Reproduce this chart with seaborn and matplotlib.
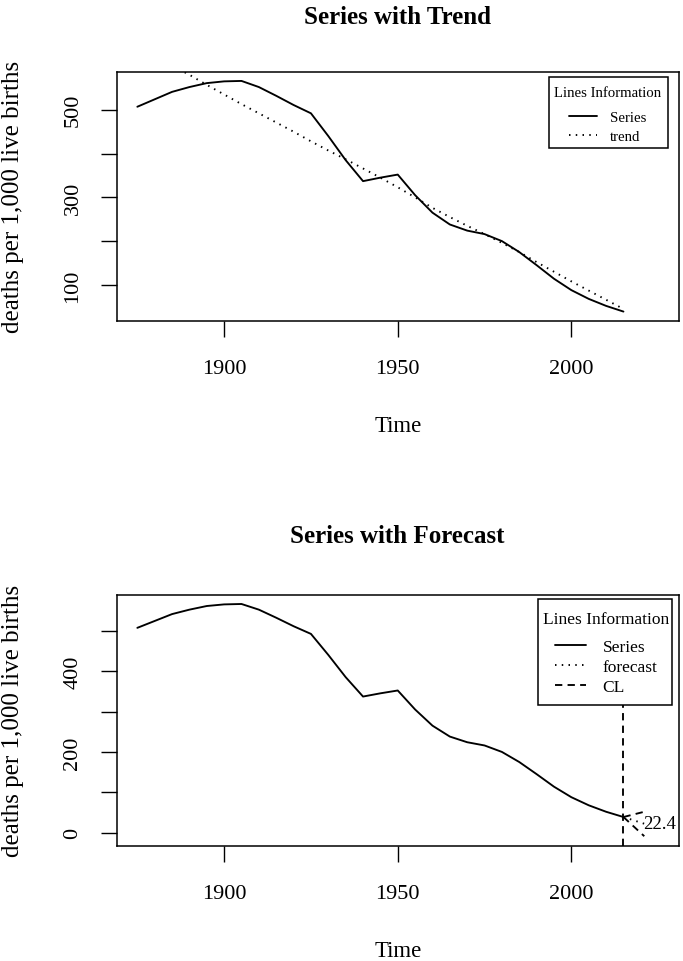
import numpy as np
import pandas as pd
import matplotlib
matplotlib.use("Agg")
import matplotlib.pyplot as plt
from matplotlib.patches import Rectangle
import seaborn as sns

# ---------------- data ----------------
years = [1875, 1880, 1885, 1890, 1895, 1900, 1905, 1910, 1915, 1920,
         1925, 1930, 1935, 1940, 1945, 1950, 1955, 1960, 1965, 1970,
         1975, 1980, 1985, 1990, 1995, 2000, 2005, 2010, 2015]
series = [507, 524, 541, 552, 561, 565, 566, 552, 532, 511,
          492, 440, 385, 337, 345, 352, 305, 265, 238, 224,
          216, 200, 175, 145, 114, 88, 68, 52, 39]
trend = [645, 623, 601, 580, 557, 535, 513, 492, 471, 450,
         428, 407, 387, 366, 345, 323, 300, 276, 255, 235,
         216, 196, 175, 152, 130, 108, 87, 66, 45]

fc_years = [2015, 2021]
forecast = [39, 22.4]
upper_cl = [39, 52]
lower_cl = [39, -8.5]
fc_label = "22.4"
cut_year = 2015

x_range = [1875, 2025]

top_yticks = [100, 200, 300, 400, 500]
top_ylabels = ["100", "", "300", "", "500"]
bot_yticks = [0, 100, 200, 300, 400, 500]
bot_ylabels = ["0", "", "200", "", "400", ""]
x_ticks = [1900, 1950, 2000]

title_top = "Series with Trend"
title_bot = "Series with Forecast"
xlab = "Time"
ylab = "deaths per 1,000 live births"
legend_title = "Lines Information"

# ---------------- style ----------------
sns.set_style("ticks")
plt.rcParams["font.family"] = ["Liberation Serif", "DejaVu Serif"]
for k in ["text.color", "axes.labelcolor", "xtick.color", "ytick.color",
          "axes.edgecolor"]:
    plt.rcParams[k] = "black"

W, H = 683, 962
fig = plt.figure(figsize=(W / 100, H / 100), dpi=100)

LW = 1.35
dotted = (0, (0.8, 2.8))
dashed = (0, (3.9, 2.8))
AX_L, AX_R = 116.5, 679.0


def pad(lo, hi):
    r = hi - lo
    return lo - 0.04 * r, hi + 0.04 * r


def px2ax(ax_top, ax_bot, x, y):
    return ((x - AX_L) / (AX_R - AX_L), (ax_bot - y) / (ax_bot - ax_top))


def style_axes(ax, yticks, ylabels, ytop_px, ybot_px):
    ax.set_xlim(*pad(*x_range))
    ax.set_xticks(x_ticks)
    ax.set_xticklabels([str(t) for t in x_ticks])
    ax.set_yticks(yticks)
    ax.set_yticklabels(ylabels, rotation=90, va="center")
    ax.tick_params(axis="both", direction="out", length=11.5, width=1.0,
                   labelsize=16, colors="black")
    ax.tick_params(axis="x", pad=16)
    ax.tick_params(axis="y", pad=13)
    for s in ax.spines.values():
        s.set_visible(True)
        s.set_color("black")
        s.set_linewidth(1.1)
    ax.grid(False)
    h = ybot_px - ytop_px
    ax.set_xlabel(xlab, fontsize=16.4)
    ax.xaxis.set_label_coords(0.5, -105 / h)
    ax.xaxis.label.set_va("center")
    ax.set_ylabel(ylab, fontsize=18, va="center")
    ax.yaxis.set_label_coords((13 - AX_L) / (AX_R - AX_L), 0.5)


def make_ax(top_px, bot_px):
    return fig.add_axes([AX_L / W, 1 - bot_px / H, (AX_R - AX_L) / W,
                         (bot_px - top_px) / H])


def add_legend(ax, ax_top, ax_bot, box, title_right, title_top_px, fs,
               hl, htp, ls, title_sep_pt):
    leg = ax.legend(title=legend_title, loc="upper right",
                    bbox_to_anchor=px2ax(ax_top, ax_bot, title_right,
                                         title_top_px),
                    borderaxespad=0, borderpad=0, fontsize=fs,
                    title_fontsize=fs, handlelength=hl, handletextpad=htp,
                    labelspacing=ls, frameon=False, alignment="center")
    leg._legend_box.sep = title_sep_pt
    leg.set_zorder(6)
    x0, y0, x1, y1 = box
    (ax0, ay1) = px2ax(ax_top, ax_bot, x0, y1)
    (ax1_, ay0) = px2ax(ax_top, ax_bot, x1, y0)
    rect = Rectangle((ax0, ay1), ax1_ - ax0, ay0 - ay1,
                     transform=ax.transAxes, facecolor="white",
                     edgecolor="black", lw=1.1, zorder=5, clip_on=False)
    ax.add_patch(rect)
    return leg


# ---------------- top panel ----------------
T1, B1 = 72.7, 321.8
ax1 = make_ax(T1, B1)
df_s = pd.DataFrame({"Time": years, "value": series})
df_t = pd.DataFrame({"Time": years, "value": trend})
sns.lineplot(data=df_s, x="Time", y="value", ax=ax1, color="black",
             lw=LW, label="Series")
sns.lineplot(data=df_t, x="Time", y="value", ax=ax1, color="black",
             lw=LW, linestyle=dotted, label="trend")
ax1.set_ylim(*pad(min(series), max(series)))
style_axes(ax1, top_yticks, top_ylabels, T1, B1)
ax1.text(0.5, px2ax(T1, B1, 0, 18)[1], title_top, transform=ax1.transAxes,
         ha="center", va="center", fontsize=18, fontweight="bold")
add_legend(ax1, T1, B1, (549.3, 78.3, 667.7, 149.0), 661.0, 86.6,
           10.6, 1.9, 0.86, 0.36, 9.0)

# ---------------- bottom panel ----------------
T2, B2 = 595.7, 846.5
ax2 = make_ax(T2, B2)
df_f = pd.DataFrame({"Time": fc_years, "value": forecast})
df_u = pd.DataFrame({"Time": fc_years, "value": upper_cl})
df_l = pd.DataFrame({"Time": fc_years, "value": lower_cl})
sns.lineplot(data=df_s, x="Time", y="value", ax=ax2, color="black",
             lw=LW, label="Series")
sns.lineplot(data=df_f, x="Time", y="value", ax=ax2, color="black",
             lw=LW, linestyle=dotted, label="forecast")
sns.lineplot(data=df_u, x="Time", y="value", ax=ax2, color="black",
             lw=LW, linestyle=dashed, label="CL")
sns.lineplot(data=df_l, x="Time", y="value", ax=ax2, color="black",
             lw=LW, linestyle=dashed)
ax2.axvline(cut_year, color="black", lw=LW, linestyle=dashed)
allv = series + upper_cl + lower_cl
ax2.set_ylim(*pad(min(allv), max(allv)))
ax2.text(fc_years[-1] - 0.4, forecast[-1], fc_label, ha="left",
         va="center", fontsize=13.5)
style_axes(ax2, bot_yticks, bot_ylabels, T2, B2)
ax2.text(0.5, px2ax(T2, B2, 0, 537)[1], title_bot, transform=ax2.transAxes,
         ha="center", va="center", fontsize=18, fontweight="bold")
add_legend(ax2, T2, B2, (538.3, 600.0, 672.0, 706.0), 669.3, 612.5,
           12.5, 1.78, 0.95, 0.235, 8.0)

fig.savefig("out.png", dpi=100)
